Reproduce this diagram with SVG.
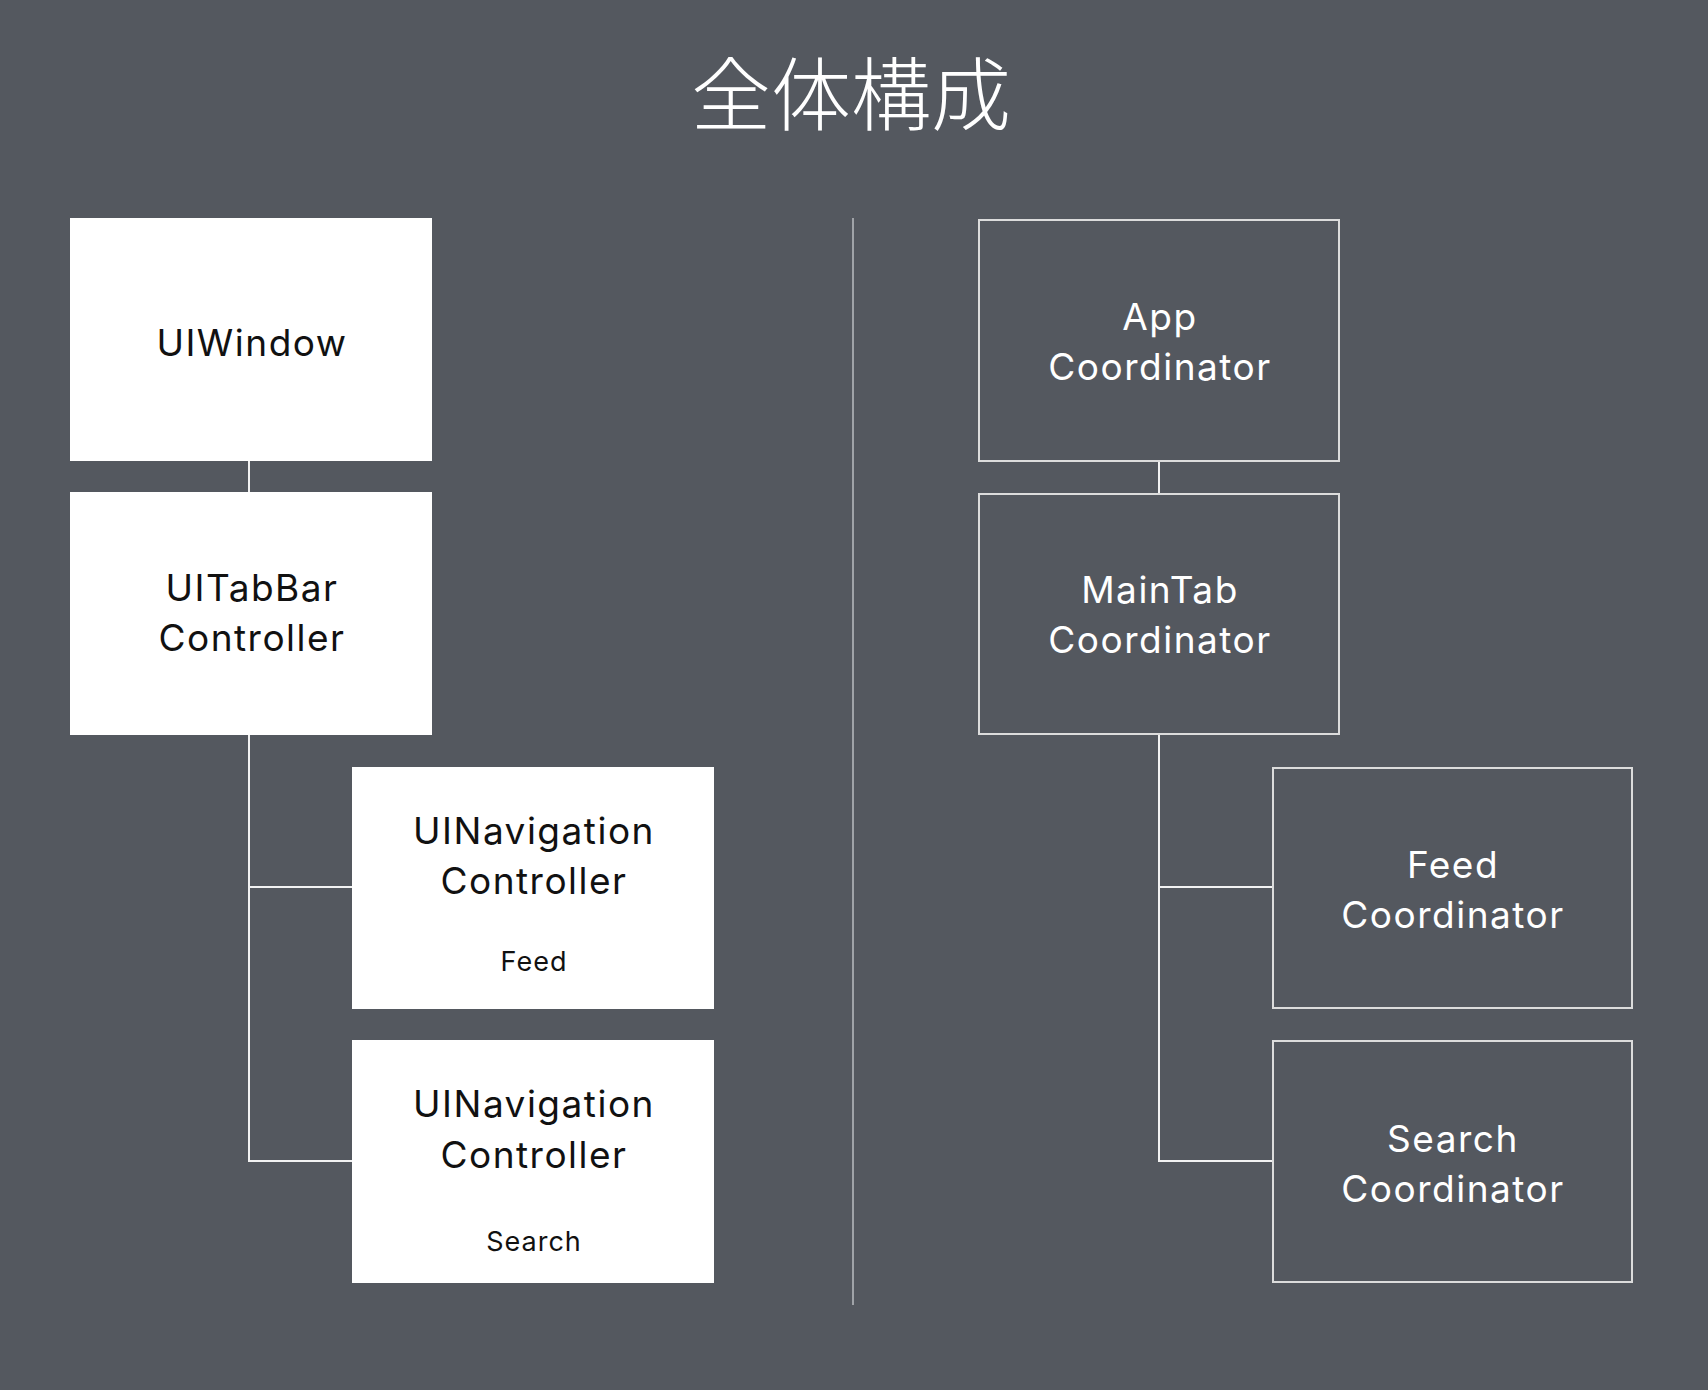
<svg xmlns="http://www.w3.org/2000/svg" width="1708" height="1390" viewBox="0 0 1708 1390">
  <style>
    .lbl { font-family: Inter, "Open Sans", "Liberation Sans", sans-serif; font-size: 37px; letter-spacing: 1.5px; text-anchor: middle; }
    .sub { font-family: Inter, "Open Sans", "Liberation Sans", sans-serif; font-size: 27px; letter-spacing: 1px; text-anchor: middle; fill: #111; }
    .dark { fill: #111; }
    .light { fill: #ffffff; }
    .wbox { fill: #ffffff; }
    .obox { fill: none; stroke: #dcdcdc; stroke-width: 2; }
    .conn { fill: none; stroke: #f2f2f2; stroke-width: 2; }
  </style>
  <rect x="0" y="0" width="1708" height="1390" fill="#54585f"/>
  <text x="851" y="124" font-family="'Noto Sans CJK JP', 'Noto Sans CJK SC', sans-serif" font-size="80" font-weight="300" fill="#ffffff" text-anchor="middle">全体構成</text>
  <line x1="853" y1="218" x2="853" y2="1305" stroke="#a0a3a8" stroke-width="2"/>

  <g id="connectors">
    <line class="conn" x1="249" y1="461" x2="249" y2="492"/>
    <polyline class="conn" points="249,735 249,1161 352,1161"/>
    <line class="conn" x1="249" y1="887" x2="352" y2="887"/>
    <line class="conn" x1="1159" y1="461" x2="1159" y2="493"/>
    <polyline class="conn" points="1159,735 1159,1161 1272,1161"/>
    <line class="conn" x1="1159" y1="887" x2="1272" y2="887"/>
  </g>

  <g id="uiwindow">
    <rect class="wbox" x="70" y="218" width="362" height="243"/>
    <text class="lbl dark" x="252" y="356">UIWindow</text>
  </g>
  <g id="uitabbar">
    <rect class="wbox" x="70" y="492" width="362" height="243"/>
    <text class="lbl dark" x="252" y="601">UITabBar</text>
    <text class="lbl dark" x="252" y="651">Controller</text>
  </g>
  <g id="nav-feed">
    <rect class="wbox" x="352" y="767" width="362" height="242"/>
    <text class="lbl dark" x="534" y="844">UINavigation</text>
    <text class="lbl dark" x="534" y="894">Controller</text>
    <text class="sub" x="534" y="971">Feed</text>
  </g>
  <g id="nav-search">
    <rect class="wbox" x="352" y="1040" width="362" height="243"/>
    <text class="lbl dark" x="534" y="1117">UINavigation</text>
    <text class="lbl dark" x="534" y="1168">Controller</text>
    <text class="sub" x="534" y="1251">Search</text>
  </g>

  <g id="app-coordinator">
    <rect class="obox" x="979" y="220" width="360" height="241"/>
    <text class="lbl light" x="1160" y="330">App</text>
    <text class="lbl light" x="1160" y="380">Coordinator</text>
  </g>
  <g id="maintab-coordinator">
    <rect class="obox" x="979" y="494" width="360" height="240"/>
    <text class="lbl light" x="1160" y="603">MainTab</text>
    <text class="lbl light" x="1160" y="653">Coordinator</text>
  </g>
  <g id="feed-coordinator">
    <rect class="obox" x="1273" y="768" width="359" height="240"/>
    <text class="lbl light" x="1453" y="878">Feed</text>
    <text class="lbl light" x="1453" y="928">Coordinator</text>
  </g>
  <g id="search-coordinator">
    <rect class="obox" x="1273" y="1041" width="359" height="241"/>
    <text class="lbl light" x="1453" y="1152">Search</text>
    <text class="lbl light" x="1453" y="1202">Coordinator</text>
  </g>
</svg>
